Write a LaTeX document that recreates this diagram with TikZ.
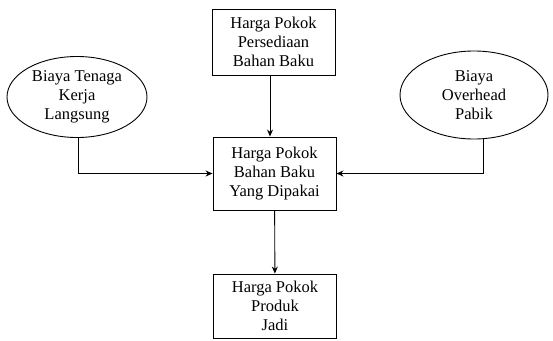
\documentclass[tikz,border=0pt]{standalone}
\usepackage{fontspec}
\setmainfont{Liberation Serif}
\usepackage{tikz}
\usetikzlibrary{positioning, shapes, arrows.meta}

\begin{document}
\begin{tikzpicture}[x=1pt, y=-1pt,
  font=\rmfamily\fontsize{16.5}{19}\selectfont,
  box/.style={draw, line width=0.9pt, align=center, minimum width=123pt, inner sep=2pt},
  oval/.style={draw, ellipse, line width=0.9pt, align=center, inner sep=0pt},
  arr/.style={-{Stealth[length=7pt, width=6pt]}, line width=0.9pt}]
\useasboundingbox (0,0) rectangle (553,340);
\node (persediaan) [box, minimum height=66pt] at (273.5,42) {Harga Pokok\\Persediaan\\Bahan Baku};
\node (dipakai) [box, minimum height=73pt] at (274.5,173.5) {Harga Pokok\\Bahan Baku\\Yang Dipakai};
\node (produk) [box, minimum height=64pt] at (275,306) {Harga Pokok\\Produk\\Jadi};
\node (tenaga) [oval, minimum width=140pt, minimum height=81pt] at (77,97) {Biaya Tenaga\\Kerja\\Langsung};
\node (overhead) [oval, minimum width=148pt, minimum height=88pt] at (474,95) {Biaya\\Overhead\\Pabik};

\draw[arr] (persediaan.south -| 270,0) -- (dipakai.north -| 270,0);
\draw[arr] (tenaga.-88) |- (dipakai.west);
\draw[arr] (overhead.-78) |- (dipakai.east);
\draw[arr] (dipakai) -- (produk);
\end{tikzpicture}
\end{document}
